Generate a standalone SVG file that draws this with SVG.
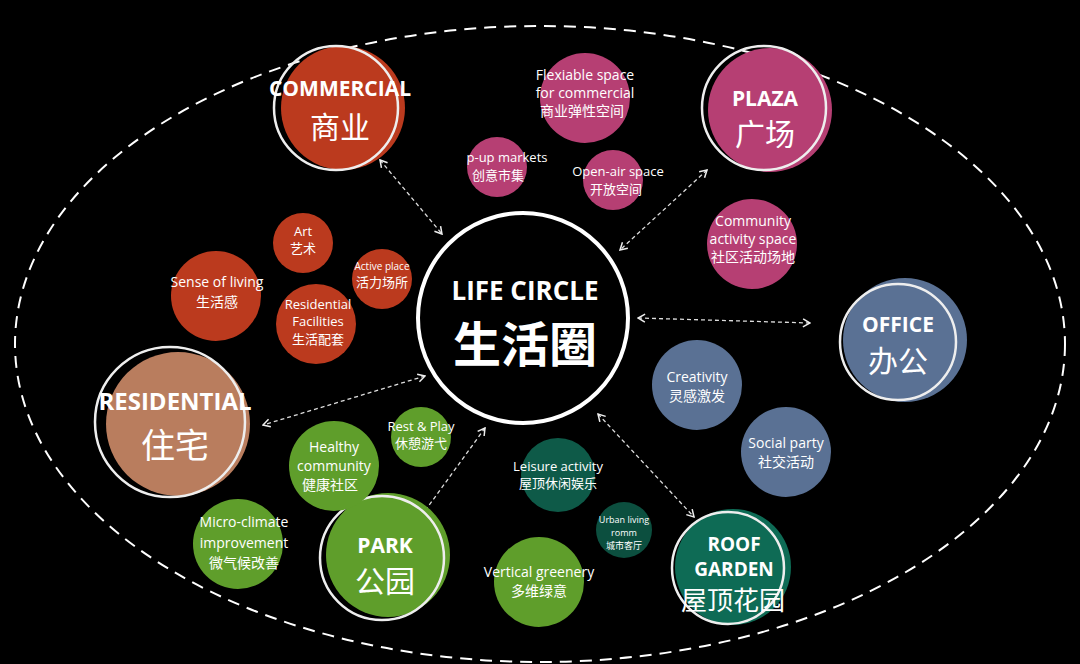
<svg xmlns="http://www.w3.org/2000/svg" width="1080" height="664" viewBox="0 0 1080 664">
<style>
text{fill:#fff;font-family:"Open Sans","Noto Sans CJK SC",sans-serif;text-anchor:middle}
.t{font-size:14px}
.s{font-size:13px}
.h{font-weight:bold;font-size:21px}
.c{font-size:30px}
.ring{fill:none;stroke:#eee;stroke-width:2.5}
.con{stroke:#ddd;stroke-width:1.3;stroke-dasharray:4 3;fill:none;marker-start:url(#a);marker-end:url(#a)}
</style>
<defs><marker id="a" viewBox="0 0 10 10" refX="9" refY="5" markerWidth="10" markerHeight="10" orient="auto-start-reverse" markerUnits="userSpaceOnUse"><path d="M2,1 L9,5 L2,9" fill="none" stroke="#eee" stroke-width="1.5"/></marker></defs>
<rect width="1080" height="664" fill="#000"/>
<ellipse cx="540" cy="344" rx="525" ry="318" fill="none" stroke="#fff" stroke-width="2" stroke-dasharray="12 8"/>
<g id="connectors">
<line class="con" x1="380" y1="160" x2="442" y2="234"/>
<line class="con" x1="707" y1="170" x2="620" y2="250"/>
<line class="con" x1="638" y1="318" x2="810" y2="323"/>
<line class="con" x1="425" y1="376" x2="263" y2="425"/>
<line class="con" x1="485" y1="428" x2="422" y2="515"/>
<line class="con" x1="598" y1="414" x2="694" y2="517"/>
</g>
<g id="center"><circle cx="523" cy="318" r="105" fill="#000" stroke="#fff" stroke-width="4"/><text x="525" y="300" style="font-weight:bold;font-size:26px">LIFE CIRCLE</text><text x="525" y="362" style="font-weight:bold;font-size:48px">生活圈</text></g>
<g id="commercial"><circle cx="343" cy="108" r="62" fill="#bb3a1e"/><circle class="ring" cx="336" cy="108" r="62"/><text class="h" x="340" y="96">COMMERCIAL</text><text class="c" x="340" y="138">商业</text></g>
<g id="plaza"><circle cx="770" cy="110" r="62" fill="#b63f73"/><circle class="ring" cx="764" cy="108" r="62"/><text class="h" x="765" y="106">PLAZA</text><text class="c" x="765" y="145">广场</text></g>
<g id="office"><circle cx="905" cy="340" r="62" fill="#5a7194"/><circle class="ring" cx="898" cy="342" r="58"/><text class="h" x="898" y="332">OFFICE</text><text class="c" x="898" y="372">办公</text></g>
<g id="residential"><circle cx="178" cy="424" r="72" fill="#b97d5e"/><circle class="ring" cx="170" cy="422" r="75"/><text class="h" x="175" y="410" style="font-size:24px">RESIDENTIAL</text><text class="c" x="175" y="458" style="font-size:34px">住宅</text></g>
<g id="park"><circle cx="388" cy="555" r="62" fill="#5f9e2b"/><circle class="ring" cx="382" cy="558" r="62"/><text class="h" x="385" y="553">PARK</text><text class="c" x="385" y="592">公园</text></g>
<g id="roof"><circle cx="733" cy="567" r="58" fill="#0e6b55"/><circle class="ring" cx="728" cy="568" r="56"/><text class="h" x="734" y="551" style="font-size:19px">ROOF</text><text class="h" x="734" y="576" style="font-size:19px">GARDEN</text><text x="733" y="610" style="font-size:26px">屋顶花园</text></g>
<g id="flex"><circle cx="585" cy="98" r="45" fill="#b63f73"/><text class="t" x="585" y="80">Flexiable space</text><text class="t" x="585" y="98">for commercial</text><text class="t" x="582" y="116">商业弹性空间</text></g>
<g id="popup"><circle cx="497" cy="167" r="30" fill="#b63f73"/><text class="s" x="507" y="162">p-up markets</text><text class="s" x="498" y="180">创意市集</text></g>
<g id="openair"><circle cx="613" cy="180" r="30" fill="#b63f73"/><text class="s" x="618" y="176">Open-air space</text><text class="s" x="616" y="194">开放空间</text></g>
<g id="community"><circle cx="752" cy="244" r="45" fill="#b63f73"/><text class="t" x="753" y="226">Community</text><text class="t" x="753" y="244">activity space</text><text class="t" x="753" y="262">社区活动场地</text></g>
<g id="art"><circle cx="303" cy="243" r="30" fill="#bb3a1e"/><text class="s" x="303" y="236">Art</text><text class="s" x="303" y="253">艺术</text></g>
<g id="sense"><circle cx="216" cy="296" r="45" fill="#bb3a1e"/><text class="t" x="217" y="287">Sense of living</text><text class="t" x="217" y="307">生活感</text></g>
<g id="active"><circle cx="382" cy="279" r="30" fill="#bb3a1e"/><text x="382" y="270" style="font-size:10px">Active place</text><text class="s" x="382" y="287">活力场所</text></g>
<g id="facilities"><circle cx="316" cy="324" r="40" fill="#bb3a1e"/><text class="s" x="318" y="309">Residential</text><text class="s" x="318" y="326">Facilities</text><text class="s" x="318" y="344">生活配套</text></g>
<g id="creativity"><circle cx="697" cy="385" r="45" fill="#5a7194"/><text class="t" x="697" y="382">Creativity</text><text class="t" x="697" y="401">灵感激发</text></g>
<g id="social"><circle cx="786" cy="452" r="45" fill="#5a7194"/><text class="t" x="786" y="448">Social party</text><text class="t" x="786" y="467">社交活动</text></g>
<g id="healthy"><circle cx="334" cy="466" r="45" fill="#5f9e2b"/><text class="t" x="334" y="452">Healthy</text><text class="t" x="334" y="471">community</text><text class="t" x="330" y="490">健康社区</text></g>
<g id="rest"><circle cx="421" cy="437" r="30" fill="#5f9e2b"/><text class="s" x="421" y="431">Rest &amp; Play</text><text class="s" x="421" y="448">休憩游弋</text></g>
<g id="micro"><circle cx="238" cy="544" r="45" fill="#5f9e2b"/><text class="t" x="244" y="527">Micro-climate</text><text class="t" x="244" y="548">improvement</text><text class="t" x="244" y="568">微气候改善</text></g>
<g id="leisure"><circle cx="558" cy="475" r="37" fill="#0e5a48"/><text class="s" x="558" y="471">Leisure activity</text><text class="s" x="558" y="488">屋顶休闲娱乐</text></g>
<g id="urban"><circle cx="624" cy="530" r="28" fill="#0c4f3f"/><text x="624" y="523" style="font-size:9px">Urban living</text><text x="624" y="536" style="font-size:9px">romm</text><text x="624" y="549" style="font-size:9px">城市客厅</text></g>
<g id="vertical"><circle cx="539" cy="582" r="45" fill="#5f9e2b"/><text class="t" x="539" y="577">Vertical greenery</text><text class="t" x="539" y="596">多维绿意</text></g>
</svg>
